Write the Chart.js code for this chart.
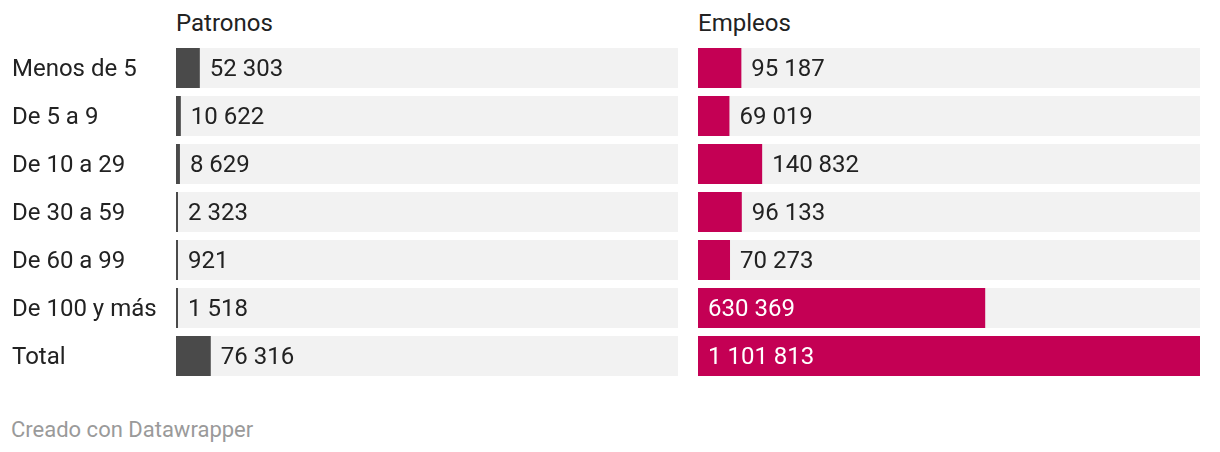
<!DOCTYPE html>
<html>
<head>
<meta charset="utf-8">
<script src="https://cdn.jsdelivr.net/npm/chart.js@4"></script>
<style>
  body { margin: 0; background: #fff; font-family: Roboto, sans-serif; }
  #wrap { position: relative; width: 1220px; height: 452px; }
  .title { position: absolute; top: 9px; font-size: 24px; color: #222; }
  #leftBox { position: absolute; left: 0; top: 44px; width: 678px; height: 336px; }
  #rightBox { position: absolute; left: 698px; top: 44px; width: 502px; height: 336px; }
  #footer { position: absolute; left: 11px; top: 417px; font-size: 22px; color: #9a9a9a; }
</style>
</head>
<body>
<div id="wrap">
  <div class="title" style="left:176px">Patronos</div>
  <div class="title" style="left:698px">Empleos</div>
  <div id="leftBox"><canvas id="leftChart"></canvas></div>
  <div id="rightBox"><canvas id="rightChart"></canvas></div>
  <div id="footer">Creado con Datawrapper</div>
</div>
<script>
// Data
const categories = ['Menos de 5', 'De 5 a 9', 'De 10 a 29', 'De 30 a 59', 'De 60 a 99', 'De 100 y más', 'Total'];
const patronos = [52303, 10622, 8629, 2323, 921, 1518, 76316];
const empleos = [95187, 69019, 140832, 96133, 70273, 630369, 1101813];

// both panels share one scale
const scaleMax = Math.max(...empleos);

function fmt(v) {
    return String(v).replace(/\B(?=(\d{3})+(?!\d))/g, ' ');
}

// gray track behind each bar
const trackPlugin = {
    id: 'track',
    beforeDatasetsDraw(chart) {
        const ctx = chart.ctx;
        const area = chart.chartArea;
        const meta = chart.getDatasetMeta(0);
        ctx.save();
        ctx.fillStyle = '#f2f2f2';
        meta.data.forEach(bar => {
            ctx.fillRect(area.left, bar.y - bar.height / 2, area.right - area.left, bar.height);
        });
        ctx.restore();
    }
};

// value labels (inside the bar when it is wide enough) and row names
const labelPlugin = {
    id: 'valueLabels',
    afterDatasetsDraw(chart, args, opts) {
        const ctx = chart.ctx;
        const meta = chart.getDatasetMeta(0);
        const values = chart.data.datasets[0].data;
        ctx.save();
        ctx.font = '24px Roboto';
        ctx.textBaseline = 'middle';
        meta.data.forEach((bar, i) => {
            if (opts.rowNames) {
                ctx.fillStyle = '#222222';
                ctx.fillText(chart.data.labels[i], 12, bar.y + 2);
            }
            const text = fmt(values[i]);
            const w = ctx.measureText(text).width;
            const barW = bar.x - bar.base;
            if (barW > w + 30) {
                ctx.fillStyle = '#ffffff';
                ctx.fillText(text, bar.base + 10, bar.y + 2);
            } else {
                ctx.fillStyle = '#222222';
                ctx.fillText(text, Math.max(bar.x, bar.base + 2) + 10, bar.y + 2);
            }
        });
        ctx.restore();
    }
};

function makeChart(id, values, color, showNames) {
    return new Chart(document.getElementById(id), {
        type: 'bar',
        data: {
            labels: categories,
            datasets: [{
                data: values,
                backgroundColor: color,
                barPercentage: 40 / 48,
                categoryPercentage: 1,
                minBarLength: 2
            }]
        },
        options: {
            indexAxis: 'y',
            responsive: true,
            maintainAspectRatio: false,
            animation: false,
            layout: { padding: { left: showNames ? 176 : 0, right: 0, top: 0, bottom: 0 } },
            plugins: {
                legend: { display: false },
                tooltip: { enabled: false },
                valueLabels: { rowNames: showNames }
            },
            scales: {
                x: { display: false, min: 0, max: scaleMax },
                y: { display: false }
            }
        },
        plugins: [trackPlugin, labelPlugin]
    });
}

makeChart('leftChart', patronos, '#4a4a4a', true);
makeChart('rightChart', empleos, '#c40054', false);
</script>
</body>
</html>
